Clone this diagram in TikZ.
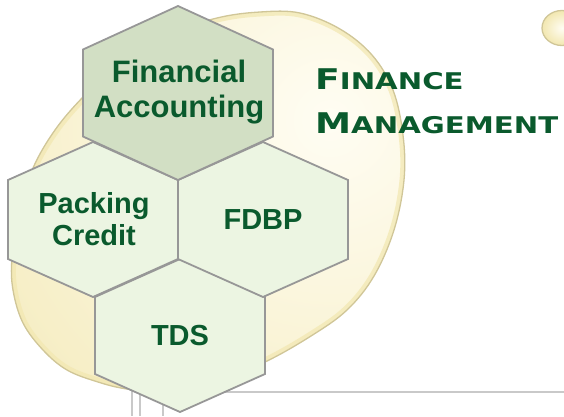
\documentclass[tikz,border=0pt]{standalone}
\usepackage{fontspec}
\setmainfont{Liberation Sans}
\newfontfamily\capsfont[FakeStretch=1.27]{DejaVu Sans}

\definecolor{hexline}{HTML}{979797}
\definecolor{hextop}{HTML}{D2DFC4}
\definecolor{hexlow}{HTML}{ECF5E2}
\definecolor{textgreen}{HTML}{0A5A2D}
\definecolor{blobin}{HTML}{FFFDF3}
\definecolor{blobout}{HTML}{F2E7B0}
\definecolor{blobedge}{HTML}{D0C698}
\definecolor{frameline}{HTML}{C9C9C9}

\newcommand{\blobpath}{plot[smooth cycle, tension=0.6] coordinates {(217,18) (260,12) (300,13) (340,29) (372,55) (393,90) (403,135) (404,180) (394,230) (374,276) (347,310) (311,336) (265,362) (215,382) (165,392) (127,389) (98,382) (67,370) (43,350) (23,323) (13,290) (12,258) (19,212) (33,168) (55,130) (83,97) (120,62) (165,35)}}

\begin{document}
\begin{tikzpicture}[x=1pt,y=-1pt,
    hex/.style={draw=hexline, line width=1.8pt, line join=miter},
    hextext/.style={text=textgreen, align=center, font=\bfseries\fontsize{29}{32}\selectfont},
    frame/.style={draw=frameline, line width=1.6pt}]
    \useasboundingbox (0,0) rectangle (564,416);

    % frame lines behind everything
    \draw[frame](163,392)--(564,392);
    \draw[frame](132,384)--(132,416);
    \draw[frame](140,384)--(140,416);
    \draw[frame](163,392)--(163,416);

    % yellow blob
    \begin{scope}
        \clip \blobpath;
        \fill[blobout] (0,0) rectangle (420,416);
        \shade[inner color=blobin, outer color=blobout] (330,120) circle (540pt);
        \draw[blobout, line width=9pt, opacity=0.7] \blobpath;
    \end{scope}
    \draw[blobedge, line width=1.3pt] \blobpath;

    % corner blob
    \shade[inner color=blobin, outer color=blobout, draw=blobedge, line width=1.3pt] (562,28) ellipse [x radius=20pt, y radius=17.5pt];

    % hexagons
    \draw[hex, fill=hexlow](180,259)--(265,297)--(265,374)--(180,412)--(95,374)--(95,297)--cycle;
    \draw[hex, fill=hexlow](93,142)--(178,180)--(178,259)--(93,297)--(8,259)--(8,180)--cycle;
    \draw[hex, fill=hexlow](263,142)--(348,180)--(348,259)--(263,297)--(178,259)--(178,180)--cycle;
    \draw[hex, fill=hextop](178,6)--(273,49.5)--(273,136.5)--(178,180)--(83,136.5)--(83,49.5)--cycle;

    \node[hextext, font=\bfseries\fontsize{31}{35}\selectfont] (fa) at (179,92) {Financial\\Accounting};
    \node[hextext] (pc) at (94,219) {Packing\\Credit};
    \node[hextext] (fdbp) at (263,220) {FDBP};
    \node[hextext] (tds) at (180,336) {TDS};

    \node[anchor=base west, inner sep=0, text=textgreen, font=\capsfont\bfseries] (fin) at (315,89)
        {{\fontsize{28.5}{30}\selectfont F}{\fontsize{23}{30}\selectfont INANCE}};
    \node[anchor=base west, inner sep=0, text=textgreen, font=\capsfont\bfseries] (mgmt) at (315,133)
        {{\fontsize{28.5}{30}\selectfont M}{\fontsize{23}{30}\selectfont ANAGEMENT}};
\end{tikzpicture}
\end{document}
